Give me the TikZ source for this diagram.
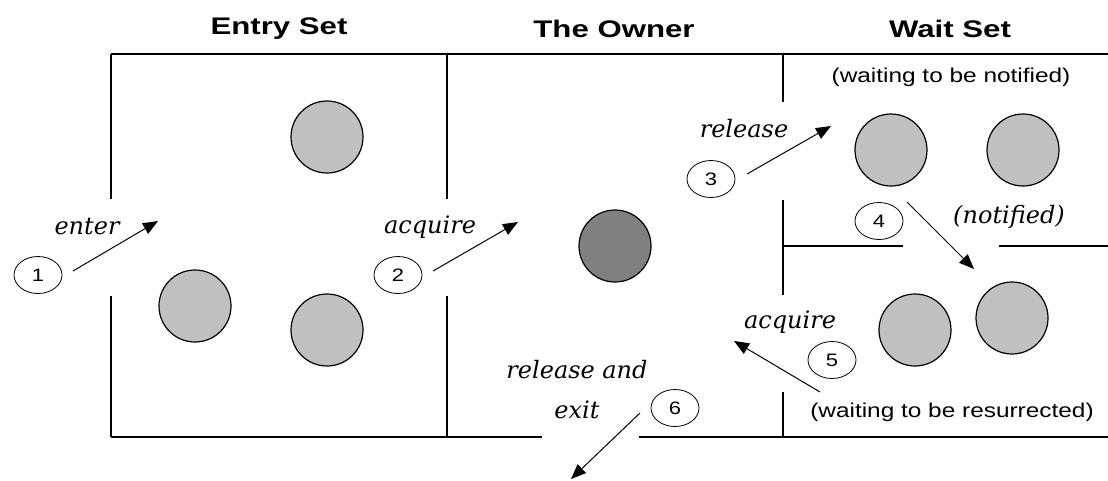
\documentclass[tikz,border=0pt]{standalone}
\usepackage{fontspec}
\newfontfamily\headfont[FakeStretch=1.3]{Liberation Sans}
\newfontfamily\notefont[FakeStretch=1.22]{Liberation Sans}
\newfontfamily\actfont{DejaVu Serif}
\usetikzlibrary{shapes.geometric,arrows.meta}
\definecolor{waitgray}{RGB}{192,192,192}
\definecolor{owngray}{RGB}{128,128,128}
\tikzset{
  frame/.style={black, line width=1.5pt},
  thread/.style={circle, draw=black, line width=1.2pt, fill=waitgray, minimum size=72pt, inner sep=0pt},
  owner/.style={thread, fill=owngray},
  stepnum/.style={ellipse, draw=black, line width=0.8pt, minimum width=48pt, minimum height=37pt, inner sep=0pt, font=\notefont\fontsize{18}{20}\selectfont},
  act/.style={font=\actfont\itshape\fontsize{24}{28}\selectfont, inner sep=0pt},
  head/.style={font=\headfont\bfseries\fontsize{24}{28}\selectfont, inner sep=0pt},
  note/.style={font=\notefont\fontsize{20}{23}\selectfont, inner sep=0pt},
  flow/.style={black, line width=1pt, -{Triangle[length=15pt,width=12pt]}}
}

\begin{document}
\begin{tikzpicture}[x=1pt, y=-1pt]
  \useasboundingbox (0,0) rectangle (1108,480);
  \draw [frame] (111,54) to (1108,54);
	\draw [frame] (111,54) to (111,199);
	\draw [frame] (111,296) to (111,437);
	\draw [frame] (447,54) to (447,199);
	\draw [frame] (447,296) to (447,437);
	\draw [frame] (783,54) to (783,102);
	\draw [frame] (783,200) to (783,295);
	\draw [frame] (783,392) to (783,437);
	\draw [frame] (783,246) to (903,246);
	\draw [frame] (999,246) to (1108,246);
	\draw [frame] (111,437) to (542,437);
	\draw [frame] (639,437) to (1108,437);

  \node [head] (entryhead) at (279,29) {Entry Set};
  \node [head] (ownerhead) at (614,29) {The Owner};
  \node [head] (waithead) at (950,29) {Wait Set};

  \node [thread] (entryA) at (327,137) {};
  \node [thread] (entryB) at (195,306) {};
  \node [thread] (entryC) at (327,330) {};
  \node [owner] (holder) at (615,246) {};
  \node [thread] (waitA) at (891,150) {};
  \node [thread] (waitB) at (1023,150) {};
  \node [thread] (waitC) at (915,330) {};
  \node [thread] (waitD) at (1012,318) {};

  \node [note] (notified) at (951,77) {(waiting to be notified)};
  \node [note] (resurrect) at (952,412) {(waiting to be resurrected)};

  \node [act] (enter) at (87,227) {enter};
  \node [act] (acqA) at (430,227) {acquire};
  \node [act] (release) at (744,129) {release};
  \node [act] (notify) at (1009,217) {(notified)};
  \node [act] (acqB) at (790,322) {acquire};
  \node [act, align=center, font=\actfont\itshape\fontsize{24}{40}\selectfont] (leave) at (577,390) {release and\\exit};

  \node [stepnum] (n1) at (38,275) {1};
  \node [stepnum] (n2) at (398,275) {2};
  \node [stepnum] (n3) at (711,179) {3};
  \node [stepnum] (n4) at (879,221) {4};
  \node [stepnum] (n5) at (832,360) {5};
  \node [stepnum] (n6) at (675,408) {6};

  \coordinate (f1) at (73,271);   \coordinate (t1) at (158,221);
  \coordinate (f2) at (433,271);  \coordinate (t2) at (518,222);
  \coordinate (f3) at (747,174);  \coordinate (t3) at (831,126);
  \coordinate (f4) at (907,202);  \coordinate (t4) at (974,269);
  \coordinate (f5) at (820,392);  \coordinate (t5) at (734,341);
  \coordinate (f6) at (640,413);  \coordinate (t6) at (571,479);
  \draw [flow] (f1) to (t1);
  \draw [flow] (f2) to (t2);
  \draw [flow] (f3) to (t3);
  \draw [flow] (f4) to (t4);
  \draw [flow] (f5) to (t5);
  \draw [flow] (f6) to (t6);
\end{tikzpicture}
\end{document}
